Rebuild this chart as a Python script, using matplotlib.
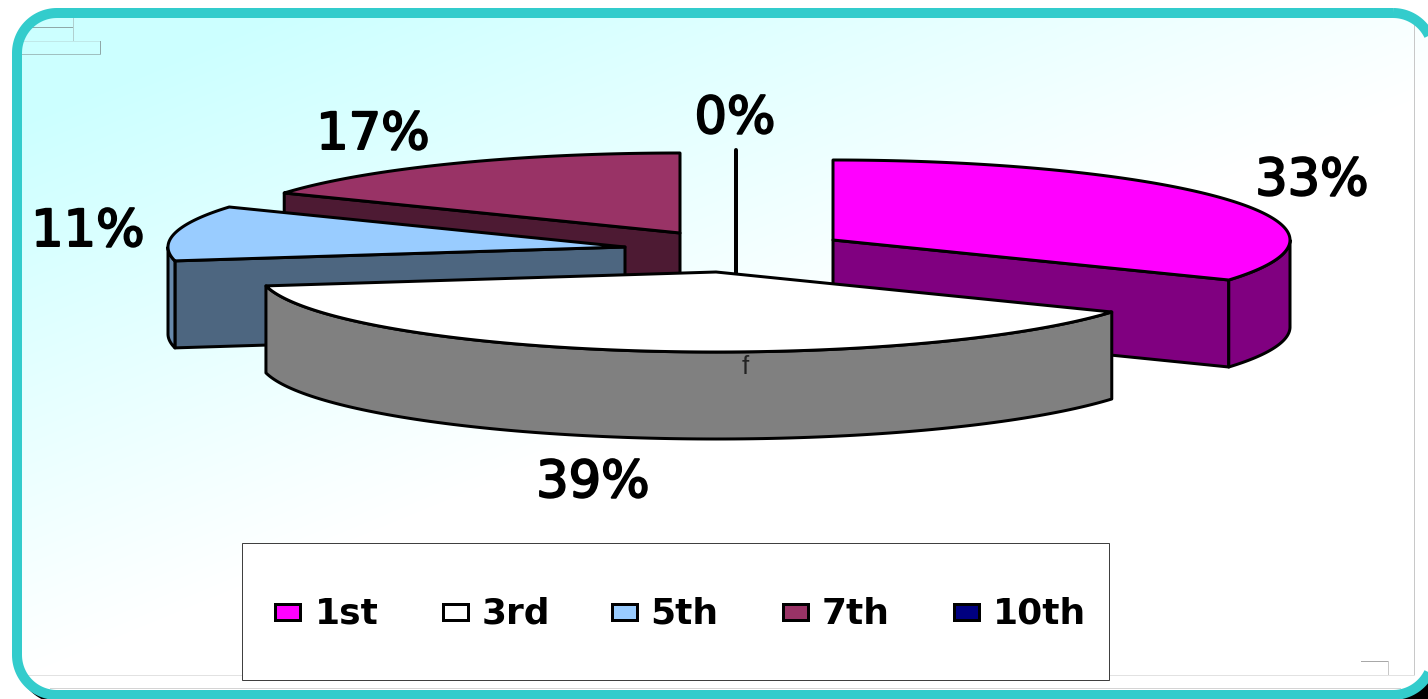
import numpy as np
import matplotlib
matplotlib.use("Agg")
import matplotlib.pyplot as plt
import matplotlib.patheffects as pe
from matplotlib.patches import Polygon, Rectangle

# ---- data ----
categories = ["1st", "3rd", "5th", "7th", "10th"]
values = [30, 35, 10, 15, 0]

# ---- style / layout ----
top_colors = ["#FF00FF", "#FFFFFF", "#99CCFF", "#993366", "#000080"]
cut_colors = ["#800080", "#808080", "#4D6680", "#4D1A33", "#000040"]
wall_colors = ["#800080", "#808080", "#6688AA", "#4D1A33", "#000040"]
vertices = [(833, 240), (716, 272), (625, 247), (680, 233), (736, 230)]
label_pos = [(1312, 181), (593, 483), (88, 232), (373, 135), (735, 119)]
legend_swatch_x = [274, 442, 611, 782, 953]
legend_text_x = [347, 516, 684, 856, 1040]
draw_order = [3, 4, 2, 0, 1]
RX, RY, DEPTH = 457, 80, 87
PX = 72 / 100  # points per pixel at dpi 100
LW = 3 * PX

fig = plt.figure(figsize=(14.28, 6.99), dpi=100, facecolor="white")
ax = fig.add_axes([0, 0, 1, 1])


def rounded(x0, y0, x1, y1, r):
    """Outline of a rounded rectangle as a plain polyline."""
    pts = []
    for cx, cy, start in ((x1 - r, y0 + r, -90), (x1 - r, y1 - r, 0),
                          (x0 + r, y1 - r, 90), (x0 + r, y0 + r, 180)):
        th = np.radians(np.linspace(start, start + 90, 30))
        pts.append(np.column_stack([cx + r * np.cos(th), cy + r * np.sin(th)]))
    return np.vstack(pts)


def frame(**kw):
    return Polygon(rounded(17, 13, 1433, 695, 40), closed=True, **kw)


# shadow, only visible at the bottom corners
shadow = Polygon(rounded(22, 17, 1480, 699, 40), closed=True, fc="black", ec="black",
                 lw=10 * PX, zorder=0)
ax.add_patch(shadow)
shadow.set_clip_path(Rectangle((0, 600), 1428, 99, transform=ax.transData))

# gradient background
H, W = 699, 1428
yy, xx = np.mgrid[0:H, 0:W]
t = np.clip((xx - 60) / 1350 + (yy - 100) / 560, 0, 1)
img = np.dstack([0.8 + 0.2 * t, np.ones_like(t), np.ones_like(t)])
back = frame(fc="none", ec="none", zorder=1)
ax.add_patch(back)
im = ax.imshow(img, extent=(0, W, H, 0), aspect="auto", zorder=1, interpolation="bilinear")
im.set_clip_path(back)

# thin gray leftover lines
thin = [
    ((22, 27), (73, 27), "#90a8a8"), ((73, 18), (73, 41), "#b0d0d0"),
    ((22, 41), (100, 41), "#c0e8e8"), ((100, 41), (100, 54), "#90a8a8"),
    ((22, 54), (100, 54), "#a0c0c0"), ((1361, 661), (1388, 661), "#a8a8a8"),
    ((1388, 661), (1388, 675), "#c8c8c8"), ((1414, 25), (1414, 675), "#c8c8c8"),
    ((24, 675), (1414, 675), "#e2e2e2"), ((50, 688), (1400, 688), "#d4d4d4"),
]
for a, b, c in thin:
    ax.plot([a[0], b[0]], [a[1], b[1]], color=c, lw=1 * PX, zorder=1.5)

# frame border
ax.add_patch(frame(fc="none", ec="#33CCCC", lw=10 * PX, zorder=2))

# pie slices computed from the values
total = sum(values)
edges = np.concatenate([[0], np.cumsum(values)]) / total * 360.0


def pt(c, deg, dy=0):
    r = np.radians(deg)
    return np.column_stack([c[0] + RX * np.sin(r), c[1] - RY * np.cos(r) + dy])


z = 3.0
for i in draw_order:
    c = vertices[i]
    a0, a1 = edges[i], edges[i + 1]
    kw = dict(ec="black", lw=LW, joinstyle="round")
    if a1 - a0 < 1e-9:
        # an empty slice is only its cut, seen edge on
        e = pt(c, a0)[0]
        ax.plot([e[0], e[0]], [e[1], c[1] + DEPTH], color="black", lw=4 * PX, zorder=z,
                solid_capstyle="round")
        z += 1
        continue
    # cut faces turned towards the viewer
    for a, show in ((a0, 180 < a0 < 360), (a1, 0 < a1 < 180)):
        if show:
            e = pt(c, a)[0]
            poly = [c, e, (e[0], e[1] + DEPTH), (c[0], c[1] + DEPTH)]
            ax.add_patch(Polygon(poly, fc=cut_colors[i], zorder=z, **kw))
    # outer wall
    w0, w1 = max(a0, 90), min(a1, 270)
    if w1 > w0:
        th = np.linspace(w0, w1, 120)
        poly = np.vstack([pt(c, th), pt(c, th[::-1], DEPTH)])
        ax.add_patch(Polygon(poly, fc=wall_colors[i], zorder=z, **kw))
    # top face
    th = np.linspace(a0, a1, 160)
    poly = np.vstack([[c], pt(c, th)])
    ax.add_patch(Polygon(poly, fc=top_colors[i], zorder=z + 0.1, **kw))
    z += 1

# percentage labels
for v, (x, y) in zip(values, label_pos):
    ax.text(x, y, f"{round(100 * v / total)}%", ha="center", va="center", fontsize=51 * PX,
            family="DejaVu Sans", color="black", zorder=20,
            path_effects=[pe.withStroke(linewidth=2 * PX, foreground="black")])

ax.text(745, 367, "f", ha="center", va="center", fontsize=26 * PX,
        family="Liberation Sans", color="#222222", zorder=20)

# legend
ax.add_patch(Rectangle((242, 543), 867, 137, fc="white", ec="#404040", lw=1 * PX, zorder=15))
for name, col, sx, tx in zip(categories, top_colors, legend_swatch_x, legend_text_x):
    ax.add_patch(Rectangle((sx + 1, 604), 25, 16, fc=col, ec="black", lw=LW, zorder=16))
    ax.text(tx, 624, name, ha="center", va="baseline", fontsize=36 * PX,
            family="DejaVu Sans", fontweight="bold", color="black", zorder=16)

ax.set_xlim(0, W)
ax.set_ylim(H, 0)
ax.axis("off")
fig.savefig("out.png", dpi=100, facecolor="white")
